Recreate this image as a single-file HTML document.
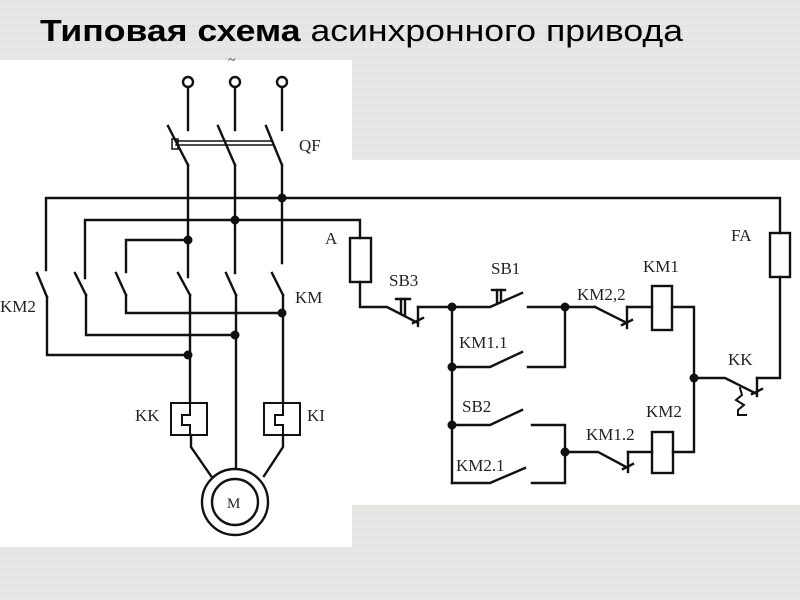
<!DOCTYPE html>
<html><head><meta charset="utf-8"><style>
html,body{margin:0;padding:0;width:800px;height:600px;overflow:hidden;background:#e5e5e3;}
svg{display:block}
</style></head><body>
<svg width="800" height="600" viewBox="0 0 800 600" xmlns="http://www.w3.org/2000/svg">
<defs>
<pattern id="p" width="8" height="8" patternUnits="userSpaceOnUse">
<rect width="8" height="8" fill="#e6e6e4"/>
<rect x="1" y="2" width="2" height="1" fill="#d8d8d6"/>
<rect x="5" y="6" width="1" height="2" fill="#f0f0ee"/>
<rect x="6" y="1" width="1" height="1" fill="#d4d4d2"/>
</pattern>
</defs>
<rect width="800" height="600" fill="url(#p)"/>
<text x="40" y="41" font-family="'Liberation Sans Narrow','Liberation Sans',sans-serif" font-size="31" fill="#000" textLength="643" lengthAdjust="spacingAndGlyphs"><tspan font-weight="bold">Типовая схема</tspan> асинхронного привода</text>
<rect x="0" y="60" width="352" height="487" fill="#fff"/>
<rect x="352" y="160" width="448" height="345" fill="#fff"/>
<g stroke="#111" stroke-width="2.4" fill="none" stroke-linecap="square">
<circle cx="188" cy="82" r="5"/><circle cx="235" cy="82" r="5"/><circle cx="282" cy="82" r="5"/>
<line x1="188" y1="87" x2="188" y2="130"/><line x1="235" y1="87" x2="235" y2="130"/><line x1="282" y1="87" x2="282" y2="130"/>
<line x1="168" y1="126" x2="188" y2="165"/><line x1="218" y1="126" x2="235" y2="165"/><line x1="266" y1="126" x2="282" y2="165"/>
<line x1="176" y1="141" x2="272" y2="141" stroke-width="1.5"/><line x1="176" y1="145" x2="272" y2="145" stroke-width="1.5"/>
<rect x="172" y="139" width="6" height="10" stroke-width="1.5"/>
<line x1="188" y1="165" x2="188" y2="277"/><line x1="235" y1="165" x2="235" y2="273"/><line x1="282" y1="165" x2="282" y2="263"/>
<polyline points="46,270 46,198 780,198 780,233"/>
<polyline points="85,278 85,220 360,220 360,238"/>
<polyline points="126,272 126,240 188,240"/>
<line x1="37" y1="273" x2="47" y2="297"/><line x1="75" y1="273" x2="86" y2="295"/><line x1="116" y1="273" x2="126" y2="295"/>
<line x1="178" y1="273" x2="190" y2="295"/><line x1="226" y1="273" x2="236" y2="295"/><line x1="272" y1="273" x2="283" y2="295"/>
<polyline points="126,295 126,313 282,313"/>
<polyline points="86,295 86,335 235,335"/>
<polyline points="47,297 47,355 188,355"/>
<line x1="190" y1="295" x2="190" y2="403"/><line x1="236" y1="295" x2="236" y2="467"/><line x1="283" y1="295" x2="283" y2="403"/>
<rect x="171" y="403" width="36" height="32" stroke-width="2"/>
<rect x="264" y="403" width="36" height="32" stroke-width="2"/>
<polyline points="190,403 190,415 182,415 182,425 190,425 190,435" stroke-width="2"/>
<polyline points="283,403 283,415 275,415 275,425 283,425 283,435" stroke-width="2"/>
<polyline points="191,435 191,447 211,476"/>
<polyline points="283,435 283,447 264,476"/>
<circle cx="235" cy="502" r="33"/><circle cx="235" cy="502" r="23"/>
<rect x="350" y="238" width="21" height="44"/>
<polyline points="360,282 360,307 387,307 418,323"/>
<line x1="418" y1="307" x2="418" y2="326"/><line x1="413" y1="323" x2="423" y2="318"/>
<line x1="418" y1="307" x2="452" y2="307"/>
<line x1="396" y1="299" x2="410" y2="299"/><line x1="401" y1="299" x2="401" y2="314"/><line x1="405" y1="299" x2="405" y2="316"/>
<polyline points="452,307 490,307 522,293"/>
<line x1="492" y1="290" x2="505" y2="290"/><line x1="497" y1="290" x2="497" y2="303"/><line x1="501" y1="290" x2="501" y2="301"/>
<line x1="528" y1="307" x2="595" y2="307"/>
<line x1="595" y1="307" x2="627" y2="323"/>
<line x1="627" y1="307" x2="627" y2="328"/><line x1="622" y1="325" x2="632" y2="320"/>
<polyline points="627,307 652,307"/>
<rect x="652" y="286" width="20" height="44"/>
<polyline points="672,307 694,307 694,452 673,452"/>
<line x1="452" y1="307" x2="452" y2="483"/>
<polyline points="452,367 490,367 522,352"/>
<polyline points="528,367 565,367 565,307"/>
<polyline points="452,425 490,425 522,410"/>
<polyline points="532,425 565,425 565,452"/>
<polyline points="452,483 490,483 525,468"/>
<polyline points="532,483 565,483 565,452"/>
<polyline points="565,452 598,452 628,468"/>
<line x1="628" y1="452" x2="628" y2="472"/><line x1="623" y1="469" x2="633" y2="464"/>
<line x1="628" y1="452" x2="652" y2="452"/>
<rect x="652" y="432" width="21" height="41"/>
<polyline points="694,378 725,378 755,393"/>
<line x1="757" y1="378" x2="757" y2="396"/><line x1="752" y1="394" x2="762" y2="389"/>
<polyline points="757,378 780,378 780,277"/>
<rect x="770" y="233" width="20" height="44"/>
<polyline points="740,388 742,395 736,400 744,405 738,410 738,415 746,415" stroke-width="2"/>
</g>
<g fill="#111">
<circle cx="282" cy="198" r="4.5"/><circle cx="235" cy="220" r="4.5"/><circle cx="188" cy="240" r="4.5"/>
<circle cx="282" cy="313" r="4.5"/><circle cx="235" cy="335" r="4.5"/><circle cx="188" cy="355" r="4.5"/>
<circle cx="452" cy="307" r="4.5"/><circle cx="565" cy="307" r="4.5"/><circle cx="452" cy="367" r="4.5"/>
<circle cx="452" cy="425" r="4.5"/><circle cx="565" cy="452" r="4.5"/><circle cx="694" cy="378" r="4.5"/>
</g>
<g font-family="'Liberation Serif',serif" font-size="17" fill="#222">
<text x="228" y="64" font-size="14">~</text>
<text x="299" y="151">QF</text>
<text x="295" y="303">KM</text>
<text x="0" y="312">KM2</text>
<text x="325" y="244">A</text>
<text x="135" y="421">KK</text>
<text x="307" y="421">KI</text>
<text x="227" y="508" font-size="15">M</text>
<text x="389" y="286">SB3</text>
<text x="491" y="274">SB1</text>
<text x="643" y="272">KM1</text>
<text x="577" y="300">KM2,2</text>
<text x="459" y="348">KM1.1</text>
<text x="462" y="412">SB2</text>
<text x="456" y="471">KM2.1</text>
<text x="586" y="440">KM1.2</text>
<text x="646" y="417">KM2</text>
<text x="731" y="241">FA</text>
<text x="728" y="365">KK</text>
</g>
</svg>
</body></html>
